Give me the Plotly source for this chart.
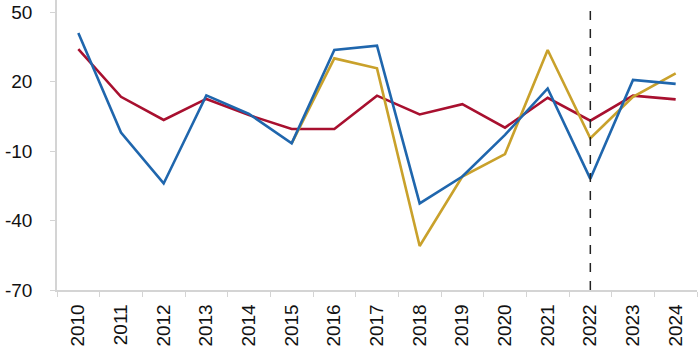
import plotly.graph_objects as go

years = [str(y) for y in range(2010, 2025)]
blue_vals = [41, -2, -24, 14, 6, -6.7, 33.6, 35.5, -32.6, -21, -3, 17, -22, 20.7, 19]
gold_years = years[5:]
gold_vals = [-6.7, 30, 25.7, -51, -21, -11.3, 33.6, -4.5, 13.4, 23.5]
red_vals = [34, 13.4, 3.4, 12.5, 5.5, -0.5, -0.5, 13.9, 5.8, 10.2, 0.1, 13, 3.1, 13.9, 12.3]
y_ticks = [50, 20, -10, -40, -70]
y_ticktext = ["50", "20", "-10", "-40", "-70"]
forecast_year = "2022"

BLUE = "#1f66ad"
RED = "#a8102f"
GOLD = "#c9a12b"

fig = go.Figure()
fig.add_trace(go.Scatter(x=years, y=red_vals, mode="lines",
                         line=dict(color=RED, width=2.6), showlegend=False))
fig.add_trace(go.Scatter(x=gold_years, y=gold_vals, mode="lines",
                         line=dict(color=GOLD, width=2.6), showlegend=False))
fig.add_trace(go.Scatter(x=years, y=blue_vals, mode="lines",
                         line=dict(color=BLUE, width=2.6), showlegend=False))

fx = years.index(forecast_year)
fig.add_shape(type="line", xref="x", yref="paper",
              x0=fx, x1=fx, y0=0, y1=0.985,
              line=dict(color="#222222", width=1.5, dash="dash"))

fig.update_layout(
    width=700, height=350,
    margin=dict(l=57, r=3, t=0, b=60),
    paper_bgcolor="white", plot_bgcolor="white",
    font=dict(family="Arial, Liberation Sans, sans-serif", size=19, color="#111111"),
)
fig.update_xaxes(
    type="category", categoryorder="array", categoryarray=years,
    range=[-0.5, len(years) - 0.5],
    tickangle=-90, tickson="boundaries", ticks="outside", ticklen=5,
    tickcolor="#d4d4d4", showline=True, linecolor="#d4d4d4", linewidth=1.5,
    showgrid=False, zeroline=False, tickfont=dict(size=19),
    ticklabelstandoff=5,
)
fig.update_yaxes(
    range=[-70, 55.2], tickvals=y_ticks, ticktext=y_ticktext,
    ticks="outside", ticklen=5, tickcolor="#d4d4d4",
    showline=True, linecolor="#d4d4d4", linewidth=1.5,
    showgrid=False, zeroline=False, tickfont=dict(size=19),
    ticklabelstandoff=14,
)

fig.write_html("out.html")
